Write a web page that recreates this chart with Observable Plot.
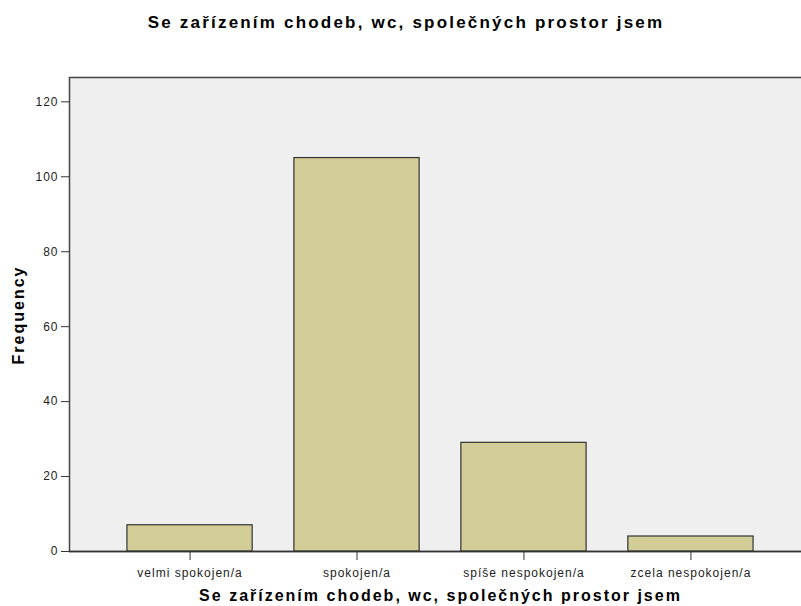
<!DOCTYPE html>
<html><head><meta charset="utf-8">
<script src="https://cdn.jsdelivr.net/npm/d3@7"></script>
<script src="https://cdn.jsdelivr.net/npm/@observablehq/plot@0.6"></script>
<style>
html,body{margin:0;padding:0;background:#fff;overflow:hidden;width:801px;height:606px;}
#wrap{position:relative;width:801px;height:606px;overflow:hidden;}
#chart{position:absolute;left:0;top:0;}
#title{position:absolute;left:0;width:812px;top:13px;text-align:center;font:bold 17px "Liberation Sans",Arial,sans-serif;letter-spacing:2.2px;color:#000;z-index:2;}
#ylab{position:absolute;left:19px;top:315px;transform:translate(-50%,-50%) rotate(-90deg);font:bold 16px "Liberation Sans",Arial,sans-serif;letter-spacing:2px;white-space:nowrap;color:#000;z-index:2;}
</style></head>
<body><div id="wrap"><div id="chart"></div><div id="title"></div><div id="ylab"></div></div>
<script>
const titleText = "Se zařízením chodeb, wc, společných prostor jsem";
const yLabel = "Frequency";
const categories = ["velmi spokojen/a", "spokojen/a", "spíše nespokojen/a", "zcela nespokojen/a"];
const frequencies = [7, 105, 29, 4];
const yTicks = [0, 20, 40, 60, 80, 100, 120];
const yMax = 126.5;

document.getElementById("title").textContent = titleText;
document.getElementById("ylab").textContent = yLabel;

const data = categories.map((c, i) => ({category: c, value: frequencies[i]}));

const chart = Plot.plot({
  width: 811,
  height: 606,
  marginTop: 77,
  marginBottom: 55,
  marginLeft: 69,
  marginRight: 0,
  style: {fontFamily: "'Liberation Sans', Arial, sans-serif", fontSize: "12px", color: "#222", background: "transparent", overflow: "visible", maxWidth: "none", letterSpacing: "1px"},
  x: {domain: categories, paddingInner: 0.25, paddingOuter: 0.347, round: false, label: null},
  y: {domain: [0, yMax], label: null},
  marks: [
    Plot.frame({fill: "#efefef", stroke: "#444", strokeWidth: 1.5}),
    Plot.barY(data, {x: "category", y: "value", fill: "#d3ce97", stroke: "#333", strokeWidth: 1.2}),
    Plot.axisY({ticks: yTicks, tickSize: 8, tickPadding: 3, tickFormat: d => d, label: null, fontSize: 12, stroke: "#333"}),
    Plot.axisX({tickSize: 9, tickPadding: 8, label: titleText, labelAnchor: "center", labelOffset: 49, fontSize: 12, stroke: "#333"}),
    Plot.ruleY([0], {stroke: "#333", strokeWidth: 1.5})
  ]
});
chart.style.maxWidth = "none";
document.getElementById("chart").appendChild(chart);
chart.querySelectorAll("g[aria-label='x-axis label'] text").forEach(t => {
  t.style.fontWeight = "bold"; t.style.fontSize = "16px"; t.style.fill = "#000"; t.style.letterSpacing = "2px";
});
</script></body></html>
